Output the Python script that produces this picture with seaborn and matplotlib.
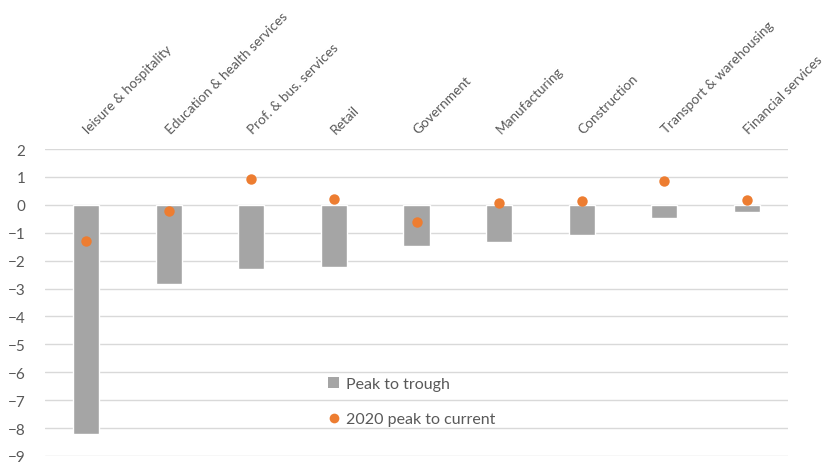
import matplotlib
matplotlib.use("Agg")
import matplotlib.pyplot as plt
import matplotlib.transforms as mtransforms
import seaborn as sns
import pandas as pd
from matplotlib.lines import Line2D
from matplotlib.patches import Patch

categories = ["leisure & hospitality", "Education & health services", "Prof. & bus. services",
              "Retail", "Government", "Manufacturing", "Construction",
              "Transport & warehousing", "Financial services"]
peak_to_trough = [-8.2, -2.84, -2.29, -2.23, -1.46, -1.35, -1.08, -0.47, -0.24]
peak_to_current = [-1.28, -0.23, 0.93, 0.22, -0.62, 0.06, 0.12, 0.84, 0.17]
y_ticks = list(range(-9, 3))

sns.set_theme(style="white")
plt.rcParams['font.family'] = ['Lato', 'DejaVu Sans']

df = pd.DataFrame({"cat": categories, "trough": peak_to_trough, "current": peak_to_current})

fig = plt.figure(figsize=(8.24, 4.64), dpi=100)
ax = fig.add_axes([45/824, 1-457/464, (788-45)/824, (457-150)/464])

sns.barplot(data=df, x="cat", y="trough", color="#A5A5A5", width=0.315, ax=ax,
            saturation=1, zorder=2)
sns.stripplot(data=df, x="cat", y="current", color="#ED7D31", jitter=False, size=7.5,
              ax=ax, zorder=3, linewidth=0)

ax.set_ylim(-9, 2)
ax.set_xlim(-0.5, len(categories) - 0.5)
ax.set_yticks(y_ticks)
ax.yaxis.grid(True, color="#D9D9D9", linewidth=1)
ax.set_axisbelow(True)
for s in ax.spines.values():
    s.set_visible(False)
ax.set_xlabel("")
ax.set_ylabel("")
ax.tick_params(axis="y", length=0, pad=14, labelsize=11, labelcolor="#595959")
ax.xaxis.tick_top()
ax.tick_params(axis="x", length=0, pad=11, labelsize=9.8, labelcolor="#595959")
ax.set_xticks(range(len(categories)))
ax.set_xticklabels(categories, rotation=45, ha="left", va="baseline", rotation_mode="anchor")
offset = mtransforms.ScaledTranslation(2/100, 0, fig.dpi_scale_trans)
for lab in ax.get_xticklabels():
    lab.set_transform(lab.get_transform() + offset)

handles = [Patch(facecolor="#A5A5A5", edgecolor="none"),
           Line2D([0], [0], marker="o", color="none", markerfacecolor="#ED7D31",
                  markeredgecolor="none", markersize=7)]
leg = ax.legend(handles, ["Peak to trough", "2020 peak to current"],
                loc="upper left", bbox_to_anchor=(320/824, 1-370/464), bbox_transform=fig.transFigure,
                frameon=False, fontsize=11.5, labelspacing=1.3, handlelength=0.7,
                handleheight=0.7, handletextpad=0.4, borderpad=0)
for t in leg.get_texts():
    t.set_color("#595959")

fig.savefig("out.png", dpi=100)
